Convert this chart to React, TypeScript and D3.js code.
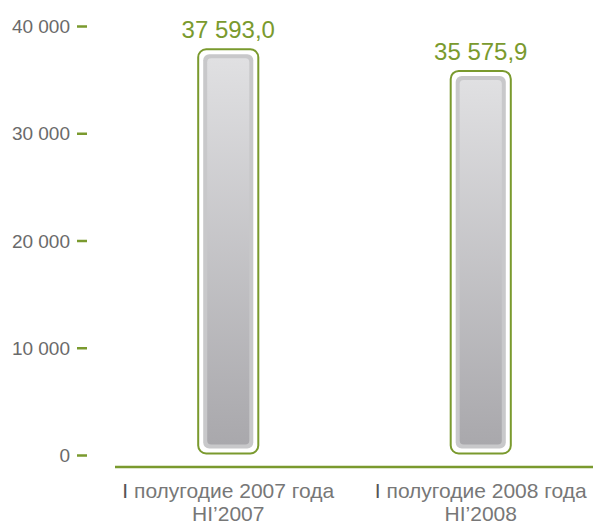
import React from 'react'
import * as d3 from 'd3'

const categories = ['I полугодие 2007 года', 'I полугодие 2008 года']
const subLabels = ['HI’2007', 'HI’2008']
const values = [37593.0, 35575.9]
const valueLabels = ['37 593,0', '35 575,9']
const ticks = [0, 10000, 20000, 30000, 40000]

const W = 593
const H = 525
const green = '#7a9a2e'

export default function App() {
  const y = d3.scaleLinear().domain([0, 40000]).range([455.5, 26.5])
  const x = d3.scaleBand<string>().domain(categories).range([102, 607]).paddingInner(0.762).paddingOuter(0.381)
  const bw = x.bandwidth()
  const fmt = (v: number) => d3.format(',')(v).replace(/,/g, ' ')

  return (
    <svg width={W} height={H} style={{ position: 'absolute', left: 0, top: 0 }} fontFamily="'Liberation Sans', Arial, sans-serif">
      <defs>
        <linearGradient id="barGrad" x1="0" y1="0" x2="0" y2="1">
          <stop offset="0%" stopColor="#e0e0e2" />
          <stop offset="100%" stopColor="#a9a8ac" />
        </linearGradient>
      </defs>
      {/* y axis ticks */}
      {ticks.map(t => (
        <g key={t} transform={`translate(0,${y(t)})`}>
          <text x={70} dy="0.35em" textAnchor="end" fontSize={19} fill="#6a6a6a">{fmt(t)}</text>
          <line x1={77} x2={87} stroke={green} strokeWidth={2.5} />
        </g>
      ))}
      {/* x axis line */}
      <line x1={115} x2={593} y1={467} y2={467} stroke={green} strokeWidth={2.5} />
      {categories.map((c, i) => {
        const x0 = x(c) as number
        const top = y(values[i]) - 3
        const bottom = y(0) - 2
        const cx = x0 + bw / 2
        return (
          <g key={c}>
            <rect x={x0} y={top} width={bw} height={bottom - top} rx={8} fill="#fff" stroke={green} strokeWidth={2} />
            <rect x={x0 + 5} y={top + 5} width={bw - 10} height={bottom - top - 10} rx={6} fill="#c8c8ca" />
            <rect x={x0 + 9} y={top + 9} width={bw - 18} height={bottom - top - 18} rx={4} fill="url(#barGrad)" />
            <text x={cx} y={top - 11} textAnchor="middle" fontSize={24} fill={green}>{valueLabels[i]}</text>
            <text x={cx} y={498} textAnchor="middle" fontSize={21} fill="#777">
              <tspan fill="#555">I</tspan>{c.slice(1)}
            </text>
            <text x={cx} y={521} textAnchor="middle" fontSize={21} fill="#777">{subLabels[i]}</text>
          </g>
        )
      })}
    </svg>
  )
}
